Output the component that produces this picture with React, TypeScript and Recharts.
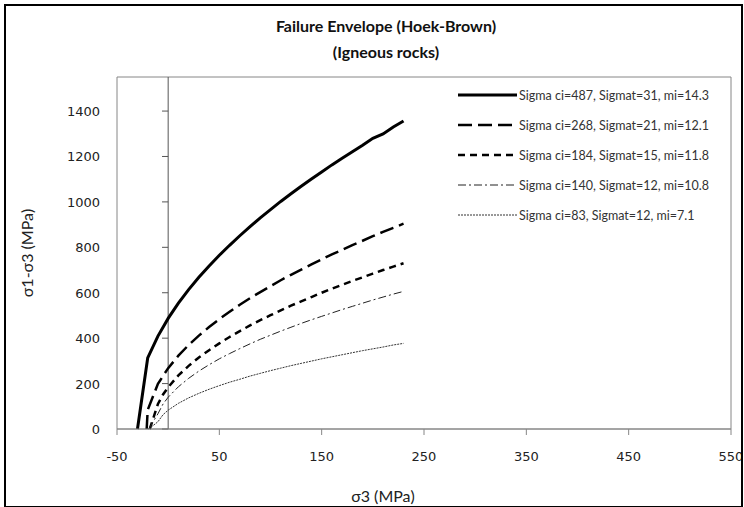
import React from "react";
import {
  LineChart,
  Line,
  XAxis,
  YAxis,
  ReferenceLine,
  ReferenceArea,
} from "recharts";

// confining stress sigma3 (MPa) on the compressive branch
const sigma3 = [
  0, 10, 20, 30, 40, 50, 60, 70, 80, 90, 100, 110, 120, 130, 140, 150, 160,
  170, 180, 190, 200, 210, 220, 230,
];

// deviator stress sigma1-sigma3 (MPa) for each rock
const dev487 = [
  487, 554, 614, 668, 718, 765, 809, 851, 891, 930, 966, 1002, 1036, 1069,
  1101, 1132, 1163, 1192, 1221, 1249, 1280, 1299, 1330, 1356,
];
const dev268 = [
  268, 323, 370, 411, 449, 484, 516, 547, 576, 603, 629, 655, 679, 702, 725,
  747, 769, 789, 810, 829, 849, 868, 886, 904,
];
const dev184 = [
  184, 236, 278, 315, 347, 377, 405, 431, 456, 479, 501, 522, 543, 562, 581,
  600, 618, 635, 652, 668, 684, 700, 715, 730,
];
const dev140 = [
  140, 186, 223, 255, 283, 309, 332, 354, 375, 395, 413, 431, 448, 465, 481,
  496, 511, 526, 540, 554, 568, 581, 594, 606,
];
const dev83 = [
  83, 113, 137, 157, 175, 191, 206, 219, 233, 245, 257, 268, 279, 289, 299,
  309, 318, 327, 336, 345, 353, 361, 370, 377,
];

// tensile branch (sigma3 < 0)
const tens487X = [-30, -20, -10];
const tens487Y = [0, 313, 409];
const tens268X = [-21, -20, -10];
const tens268Y = [0, 84, 199];
const tens184X = [-18, -10, -5];
const tens184Y = [0, 110, 152];
const tens140X = [-19, -10, -5];
const tens140Y = [0, 67, 110];
const tens83X = [-19, -10, -5];
const tens83Y = [0, 32, 63];

const xTicks = [-50, 50, 150, 250, 350, 450, 550];
const yTicks = [0, 200, 400, 600, 800, 1000, 1200, 1400];

const build = (tx: number[], ty: number[], dev: number[]) => [
  ...tx.map((x, i) => ({ x, y: ty[i] })),
  ...sigma3.map((x, i) => ({ x, y: dev[i] })),
];

const series = [
  {
    name: "Sigma ci=487, Sigmat=31, mi=14.3",
    data: build(tens487X, tens487Y, dev487),
    width: 3,
    dash: undefined as string | undefined,
    color: "#000",
  },
  {
    name: "Sigma ci=268, Sigmat=21, mi=12.1",
    data: build(tens268X, tens268Y, dev268),
    width: 2.5,
    dash: "14 6",
    color: "#000",
  },
  {
    name: "Sigma ci=184, Sigmat=15, mi=11.8",
    data: build(tens184X, tens184Y, dev184),
    width: 2.5,
    dash: "7 5",
    color: "#000",
  },
  {
    name: "Sigma ci=140, Sigmat=12, mi=10.8",
    data: build(tens140X, tens140Y, dev140),
    width: 1,
    dash: "8 3 2 3",
    color: "#222",
  },
  {
    name: "Sigma ci=83, Sigmat=12, mi=7.1",
    data: build(tens83X, tens83Y, dev83),
    width: 1,
    dash: "2 1",
    color: "#333",
  },
];

const labelFont = 'Lato, "Open Sans", sans-serif';
const tickFont = '"DejaVu Sans", Verdana, sans-serif';

const LegendBox: React.FC = () => (
  <div
    style={{
      position: "absolute",
      left: 457,
      top: 80,
      fontFamily: labelFont,
      fontSize: 12.5,
      color: "#333",
    }}
  >
    {series.map((s) => (
      <div
        key={s.name}
        style={{ display: "flex", alignItems: "center", height: 30 }}
      >
        <svg width={62} height={10}>
          <line
            x1={1}
            y1={5}
            x2={60}
            y2={5}
            stroke={s.color}
            strokeWidth={s.width}
            strokeDasharray={s.dash}
          />
        </svg>
        <span style={{ whiteSpace: "nowrap" }}>{s.name}</span>
      </div>
    ))}
  </div>
);

const YTick = (props: any) => {
  const { x, y, payload } = props;
  return (
    <text
      x={x - 9}
      y={y}
      dy={5}
      textAnchor="end"
      fontFamily={tickFont}
      fontSize={13}
      fill="#222"
    >
      {payload.value}
    </text>
  );
};

const App: React.FC = () => {
  return (
    <div
      style={{
        position: "absolute",
        left: 0,
        top: 0,
        width: 744,
        height: 507,
        background: "#fff",
      }}
    >
      <LineChart
        width={744}
        height={507}
        margin={{ top: 77, right: 13, bottom: 0, left: 0 }}
        style={{ position: "absolute", left: 0, top: 0 }}
      >
        <ReferenceArea
          x1={-50}
          x2={550}
          y1={0}
          y2={1550}
          fill="none"
          stroke="#868686"
          strokeWidth={1}
          ifOverflow="visible"
        />
        <XAxis
          type="number"
          dataKey="x"
          domain={[-50, 550]}
          ticks={xTicks}
          allowDataOverflow
          height={78}
          axisLine={{ stroke: "#868686" }}
          tickLine={{ stroke: "#868686" }}
          tickSize={6}
          tick={{ fontFamily: tickFont, fontSize: 13, fill: "#222", dy: 15 }}
        />
        <YAxis
          type="number"
          dataKey="y"
          domain={[0, 1550]}
          ticks={yTicks}
          width={117}
          axisLine={false}
          tickLine={false}
          tick={<YTick />}
          label={{
            value: "σ1-σ3 (MPa)",
            angle: -90,
            position: "insideLeft",
            offset: 27,
            style: {
              fontFamily: labelFont,
              fontSize: 16,
              fill: "#222",
              textAnchor: "middle",
            },
          }}
        />
        <ReferenceLine x={0} stroke="#555" strokeWidth={1} />
        {yTicks.map((t) => (
          <ReferenceLine
            key={t}
            segment={[
              { x: -6, y: t },
              { x: 0, y: t },
            ]}
            stroke="#555"
            strokeWidth={1}
          />
        ))}
        {series.map((s) => (
          <Line
            key={s.name}
            data={s.data}
            dataKey="y"
            name={s.name}
            type="linear"
            stroke={s.color}
            strokeWidth={s.width}
            strokeDasharray={s.dash}
            dot={false}
            isAnimationActive={false}
          />
        ))}
      </LineChart>
      <LegendBox />
      <div
        style={{
          position: "absolute",
          left: 28,
          width: 716,
          top: 13,
          textAlign: "center",
          fontFamily: labelFont,
          fontWeight: "bold",
          fontSize: 16,
          lineHeight: "26px",
          color: "#111",
        }}
      >
        Failure Envelope (Hoek-Brown)
        <br />
        (Igneous rocks)
      </div>
      <div
        style={{
          position: "absolute",
          left: 283,
          width: 200,
          top: 486,
          textAlign: "center",
          fontFamily: labelFont,
          fontSize: 16,
          color: "#222",
        }}
      >
        σ3 (MPa)
      </div>
      <div
        style={{
          position: "absolute",
          left: 4,
          top: 4,
          width: 735,
          height: 500,
          border: "2px solid #000",
        }}
      />
    </div>
  );
};

export default App;
